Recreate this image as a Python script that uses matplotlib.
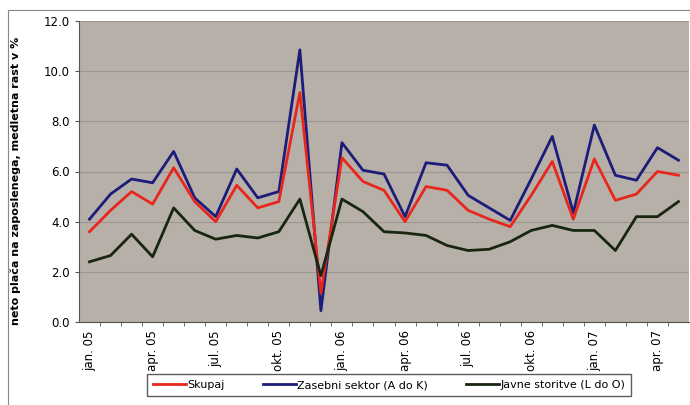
import matplotlib
matplotlib.use("Agg")
import matplotlib.pyplot as plt
from matplotlib.patches import Rectangle
from matplotlib.ticker import FormatStrFormatter, MultipleLocator

# mesecne vrednosti jan. 05 - maj 07
mesci = ["jan. 05", "feb. 05", "mar. 05", "apr. 05", "maj 05", "jun. 05",
         "jul. 05", "avg. 05", "sep. 05", "okt. 05", "nov. 05", "dec. 05",
         "jan. 06", "feb. 06", "mar. 06", "apr. 06", "maj 06", "jun. 06",
         "jul. 06", "avg. 06", "sep. 06", "okt. 06", "nov. 06", "dec. 06",
         "jan. 07", "feb. 07", "mar. 07", "apr. 07", "maj 07"]

skupaj = [3.6, 4.45, 5.2, 4.7, 6.15, 4.8, 4.0, 5.45, 4.55, 4.8, 9.15, 1.15,
          6.55, 5.6, 5.25, 4.0, 5.4, 5.25, 4.45, 4.1, 3.8, 5.05, 6.4, 4.1,
          6.5, 4.85, 5.1, 6.0, 5.85]
zasebni = [4.1, 5.1, 5.7, 5.55, 6.8, 4.95, 4.2, 6.1, 4.95, 5.2, 10.85, 0.45,
           7.15, 6.05, 5.9, 4.2, 6.35, 6.25, 5.05, 4.55, 4.05, 5.7, 7.4, 4.35,
           7.85, 5.85, 5.65, 6.95, 6.45]
javne = [2.4, 2.65, 3.5, 2.6, 4.55, 3.65, 3.3, 3.45, 3.35, 3.6, 4.9, 1.85,
         4.9, 4.4, 3.6, 3.55, 3.45, 3.05, 2.85, 2.9, 3.2, 3.65, 3.85, 3.65,
         3.65, 2.85, 4.2, 4.2, 4.8]

fig = plt.figure(figsize=(6.9, 4.05), dpi=100)
ax = fig.add_axes([79/690, 1-322/405, 610/690, 301/405])
ax.set_facecolor("#b7b0a9")

x = list(range(len(mesci)))
ax.plot(x, skupaj, color="#e8261c", lw=2, label="Skupaj", zorder=3)
ax.plot(x, zasebni, color="#1c1c7a", lw=2, label="Zasebni sektor (A do K)", zorder=2)
ax.plot(x, javne, color="#18260f", lw=2, label="Javne storitve (L do O)", zorder=4)

ax.set_xlim(-0.5, len(mesci) - 0.5)
ax.set_ylim(0, 12)
ax.yaxis.set_major_locator(MultipleLocator(2))
ax.yaxis.set_major_formatter(FormatStrFormatter("%.1f"))
ax.grid(axis="y", color="#9d968f", lw=0.8)
ax.set_axisbelow(True)

ax.set_xticks(x[::3])
ax.set_xticklabels(mesci[::3], rotation=90, fontsize=8.5)
ax.set_xticks([i + 0.5 for i in x[:-1]], minor=True)
ax.tick_params(axis="x", which="major", length=0, pad=6)
ax.tick_params(axis="x", which="minor", length=3, color="#555555")
ax.tick_params(axis="y", labelsize=8.5, length=3, color="#555555")

for s in ["top", "right"]:
    ax.spines[s].set_visible(False)
ax.spines["left"].set_color("#555555")
ax.spines["bottom"].set_color("#555555")

ax.set_ylabel("neto plača na zaposlenega, medletna rast v %", fontsize=8,
              fontweight="bold")
ax.yaxis.set_label_coords(-0.095, 0.47)

fig.legend(loc="center", bbox_to_anchor=(389/690, 1-385/405), ncol=3,
           fontsize=8, frameon=True, fancybox=False, edgecolor="#333333",
           handlelength=3.0, columnspacing=3.4, borderpad=0.55,
           handletextpad=0.1, borderaxespad=0)

# okvir okoli grafa
fig.patches.append(Rectangle((8/690, -0.01), 1.0, 1 - 10/405 + 0.01,
                             transform=fig.transFigure, fill=False,
                             edgecolor="#888888", lw=0.8))

fig.savefig("out.png", dpi=100)
